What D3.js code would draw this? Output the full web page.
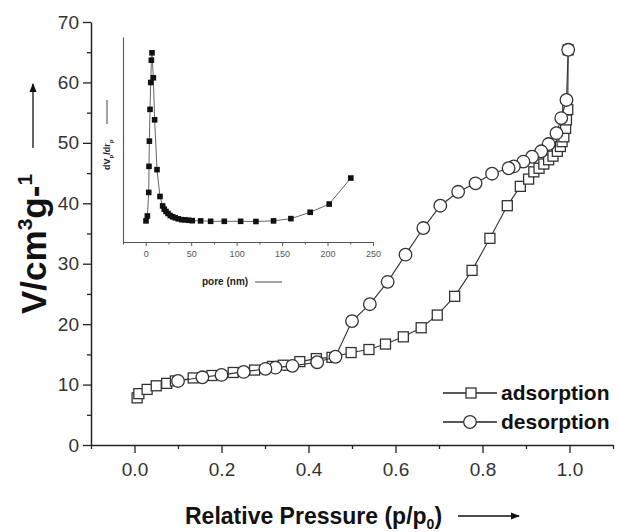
<!DOCTYPE html>
<html>
<head>
<meta charset="utf-8">
<script src="https://cdn.jsdelivr.net/npm/d3@7"></script>
<style>
  body { margin: 0; background: #fff; }
  text { font-family: "Liberation Sans", Arial, sans-serif; }
</style>
</head>
<body>
<div class="chart"></div>
<script>
// adsorption branch (squares)
var adsP = [0.006, 0.01, 0.029, 0.05, 0.074, 0.094, 0.135, 0.178, 0.227, 0.276, 0.317, 0.342, 0.38, 0.418, 0.454,
    0.498, 0.539, 0.577, 0.618, 0.659, 0.696, 0.736, 0.776, 0.817, 0.857, 0.887, 0.906, 0.918, 0.93, 0.941,
    0.952, 0.962, 0.972, 0.979, 0.983, 0.987, 0.991, 0.993, 0.996, 0.997];
var adsV = [7.8, 8.5, 9.2, 9.8, 10.2, 10.6, 11.1, 11.5, 12.0, 12.4, 13.0, 13.2, 13.8, 14.3, 14.5,
    15.3, 15.8, 16.7, 17.9, 19.4, 21.5, 24.6, 28.9, 34.2, 39.6, 42.8, 44.0, 45.2, 45.8, 46.5,
    47.2, 47.8, 48.6, 49.4, 50.2, 51.0, 52.4, 53.8, 55.5, 65.4];

// desorption branch (circles)
var desP = [0.997, 0.993, 0.981, 0.97, 0.952, 0.935, 0.914, 0.894, 0.872, 0.86, 0.822, 0.784, 0.744, 0.703,
    0.664, 0.623, 0.582, 0.541, 0.5, 0.462, 0.42, 0.363, 0.324, 0.301, 0.251, 0.2, 0.156, 0.1];
var desV = [65.4, 57.1, 54.1, 51.6, 49.8, 48.6, 47.7, 46.9, 46.1, 45.8, 44.9, 43.3, 41.9, 39.6,
    35.9, 31.5, 27.0, 23.3, 20.5, 14.6, 13.7, 13.1, 12.8, 12.6, 12.1, 11.6, 11.2, 10.6];

// inset: pore size distribution
var poreNm = [0.3, 1.8, 3.3, 3.6, 4, 4.7, 5.5, 6.2, 6.9, 8.4, 9.8, 12.4, 15.7, 18.6, 20.4, 22.3, 24.5, 27,
    29.6, 32.5, 35.8, 39.5, 43.2, 47.2, 51.2, 60.4, 71.4, 86.4, 104.4, 121.2, 140.6, 159.7, 180.9, 201.8, 225.6];
var poreDv = [10.3, 12.7, 24.2, 36.9, 49.2, 64.7, 77.8, 88.7, 92.3, 80.1, 59.6, 35.3, 22.2, 17.6, 16, 14.9, 13.9, 12.9,
    12.3, 11.8, 11.3, 10.9, 10.8, 10.6, 10.4, 10.3, 10.1, 10.1, 10.1, 10, 10.3, 11.4, 14.5, 18.5, 31.2];

var xTicks = [0, 0.2, 0.4, 0.6, 0.8, 1.0];
var xMinor = [-0.1, 0.1, 0.3, 0.5, 0.7, 0.9, 1.1];
var yTicks = [0, 10, 20, 30, 40, 50, 60, 70];
var yMinor = [5, 15, 25, 35, 45, 55, 65];
var inTicks = [0, 50, 100, 150, 200, 250];
var inMinor = [-25, 25, 75, 125, 175, 225];

var W = 618, H = 532;
var ink = "#222";

var svg = d3.select(".chart").append("svg")
    .attr("width", W)
    .attr("height", H);

var x = d3.scaleLinear().domain([-0.1, 1.1]).range([91, 613]);
var y = d3.scaleLinear().domain([0, 70]).range([445, 22]);

// axes
var xAxis = svg.append("g")
    .attr("transform", "translate(0,445)")
    .call(d3.axisBottom(x).tickValues(xTicks).tickFormat(d3.format(".1f")).tickSize(8).tickSizeOuter(0));
svg.append("g")
    .attr("transform", "translate(0,445)")
    .call(d3.axisBottom(x).tickValues(xMinor).tickFormat("").tickSize(4).tickSizeOuter(0))
    .select(".domain").remove();
var yAxis = svg.append("g")
    .attr("transform", "translate(91,0)")
    .call(d3.axisLeft(y).tickValues(yTicks).tickSize(8).tickSizeOuter(0));
svg.append("g")
    .attr("transform", "translate(91,0)")
    .call(d3.axisLeft(y).tickValues(yMinor).tickFormat("").tickSize(4).tickSizeOuter(0))
    .select(".domain").remove();

svg.selectAll(".domain").attr("stroke", ink).attr("stroke-width", 1.5);
svg.selectAll(".tick line").attr("stroke", ink).attr("stroke-width", 1.3);
xAxis.selectAll(".tick text").attr("font-size", 19).attr("fill", "#333").attr("dy", "1.05em");
yAxis.selectAll(".tick text").attr("font-size", 19).attr("fill", "#333").attr("x", -12);

// axis titles
var xt = svg.append("text")
    .attr("x", 185).attr("y", 524)
    .attr("font-size", 23).attr("font-weight", "bold").attr("fill", "#111");
xt.append("tspan").text("Relative Pressure (p/p");
xt.append("tspan").attr("font-size", 14).attr("dy", 5).text("0");
xt.append("tspan").attr("dy", -5).text(")");

var defs = svg.append("defs");
defs.append("marker").attr("id", "arr")
    .attr("viewBox", "0 0 10 10").attr("refX", 9).attr("refY", 5)
    .attr("markerWidth", 7).attr("markerHeight", 7).attr("orient", "auto")
    .append("path").attr("d", "M0,1 L10,5 L0,9 z").attr("fill", "#111");

svg.append("line").attr("x1", 458).attr("x2", 519).attr("y1", 516).attr("y2", 516)
    .attr("stroke", "#111").attr("stroke-width", 1.3).attr("marker-end", "url(#arr)");

var yt = svg.append("text")
    .attr("transform", "translate(46,314) rotate(-90)")
    .attr("font-size", 35).attr("font-weight", "bold").attr("fill", "#111");
yt.append("tspan").text("V/cm");
yt.append("tspan").attr("font-size", 21).attr("dy", -14).text("3");
yt.append("tspan").attr("dy", 14).text("g-");
yt.append("tspan").attr("font-size", 21).attr("dy", -14).text("1");

svg.append("line").attr("x1", 33).attr("x2", 33).attr("y1", 148).attr("y2", 84)
    .attr("stroke", "#111").attr("stroke-width", 1.3).attr("marker-end", "url(#arr)");

// series
var adsData = adsP.map((p, i) => ({p: p, v: adsV[i]}));
var desData = desP.map((p, i) => ({p: p, v: desV[i]}));

var line = d3.line().x(d => x(d.p)).y(d => y(d.v));

svg.append("path").datum(adsData)
    .attr("d", line).attr("fill", "none").attr("stroke", "#333").attr("stroke-width", 1.1);
svg.append("g").selectAll("rect")
    .data(adsData)
    .enter()
    .append("rect")
    .attr("x", d => x(d.p) - 5)
    .attr("y", d => y(d.v) - 5)
    .attr("width", 10).attr("height", 10)
    .attr("fill", "#fff").attr("stroke", "#333").attr("stroke-width", 1.3);

svg.append("path").datum(desData)
    .attr("d", line).attr("fill", "none").attr("stroke", "#333").attr("stroke-width", 1.1);
svg.append("g").selectAll("circle")
    .data(desData)
    .enter()
    .append("circle")
    .attr("cx", d => x(d.p))
    .attr("cy", d => y(d.v))
    .attr("r", 6.3)
    .attr("fill", "#fff").attr("stroke", "#333").attr("stroke-width", 1.3);

// legend
var legend = svg.append("g");
[{label: "adsorption", shape: "sq", yy: 393}, {label: "desorption", shape: "ci", yy: 422}].forEach(function (l) {
    legend.append("line").attr("x1", 443).attr("x2", 497).attr("y1", l.yy).attr("y2", l.yy)
        .attr("stroke", "#222").attr("stroke-width", 1.3);
    if (l.shape === "sq") {
        legend.append("rect").attr("x", 466).attr("y", l.yy - 5).attr("width", 10).attr("height", 10)
            .attr("fill", "#fff").attr("stroke", "#333").attr("stroke-width", 1.3);
    } else {
        legend.append("circle").attr("cx", 470).attr("cy", l.yy).attr("r", 6.3)
            .attr("fill", "#fff").attr("stroke", "#333").attr("stroke-width", 1.3);
    }
    legend.append("text").attr("x", 501).attr("y", l.yy + 7)
        .attr("font-size", 21).attr("font-weight", "bold").attr("fill", "#111")
        .text(l.label);
});

// inset
var ix = d3.scaleLinear().domain([-25, 250]).range([123, 373]);
var iy = d3.scaleLinear().domain([0, 100]).range([242, 37]);
var inset = svg.append("g");

var ixAxis = inset.append("g")
    .attr("transform", "translate(0,242)")
    .call(d3.axisBottom(ix).tickValues(inTicks).tickSize(4).tickSizeOuter(0));
inset.append("g")
    .attr("transform", "translate(0,242)")
    .call(d3.axisBottom(ix).tickValues(inMinor).tickFormat("").tickSize(2.5).tickSizeOuter(0))
    .select(".domain").remove();
inset.append("g")
    .attr("transform", "translate(123,0)")
    .call(d3.axisLeft(iy).tickValues([]).tickSizeOuter(0));

inset.selectAll(".domain").attr("stroke", "#555").attr("stroke-width", 1.1);
inset.selectAll(".tick line").attr("stroke", "#555");
ixAxis.selectAll(".tick text").attr("font-size", 9).attr("fill", "#555").attr("dy", "0.9em");

var poreData = poreNm.map((n, i) => ({n: n, d: poreDv[i]}));
inset.append("path").datum(poreData)
    .attr("d", d3.line().x(d => ix(d.n)).y(d => iy(d.d)))
    .attr("fill", "none").attr("stroke", "#666").attr("stroke-width", 1);
inset.append("g").selectAll("rect")
    .data(poreData)
    .enter()
    .append("rect")
    .attr("x", d => ix(d.n) - 2.8)
    .attr("y", d => iy(d.d) - 2.8)
    .attr("width", 5.6).attr("height", 5.6)
    .attr("fill", "#111");

inset.append("text").attr("x", 202).attr("y", 285)
    .attr("font-size", 10).attr("font-weight", "bold").attr("fill", "#222")
    .text("pore (nm)");
inset.append("line").attr("x1", 255).attr("x2", 282).attr("y1", 282).attr("y2", 282)
    .attr("stroke", "#333").attr("stroke-width", 0.9);

var iyt = inset.append("text").attr("transform", "translate(110,170) rotate(-90)")
    .attr("font-size", 9).attr("font-weight", "bold").attr("fill", "#222");
iyt.append("tspan").text("dV");
iyt.append("tspan").attr("font-size", 6).attr("dy", 3).text("p");
iyt.append("tspan").attr("dy", -3).text("/dr");
iyt.append("tspan").attr("font-size", 6).attr("dy", 3).text("p");
inset.append("line").attr("x1", 107).attr("x2", 107).attr("y1", 124).attr("y2", 100)
    .attr("stroke", "#333").attr("stroke-width", 0.9);
</script>
</body>
</html>
